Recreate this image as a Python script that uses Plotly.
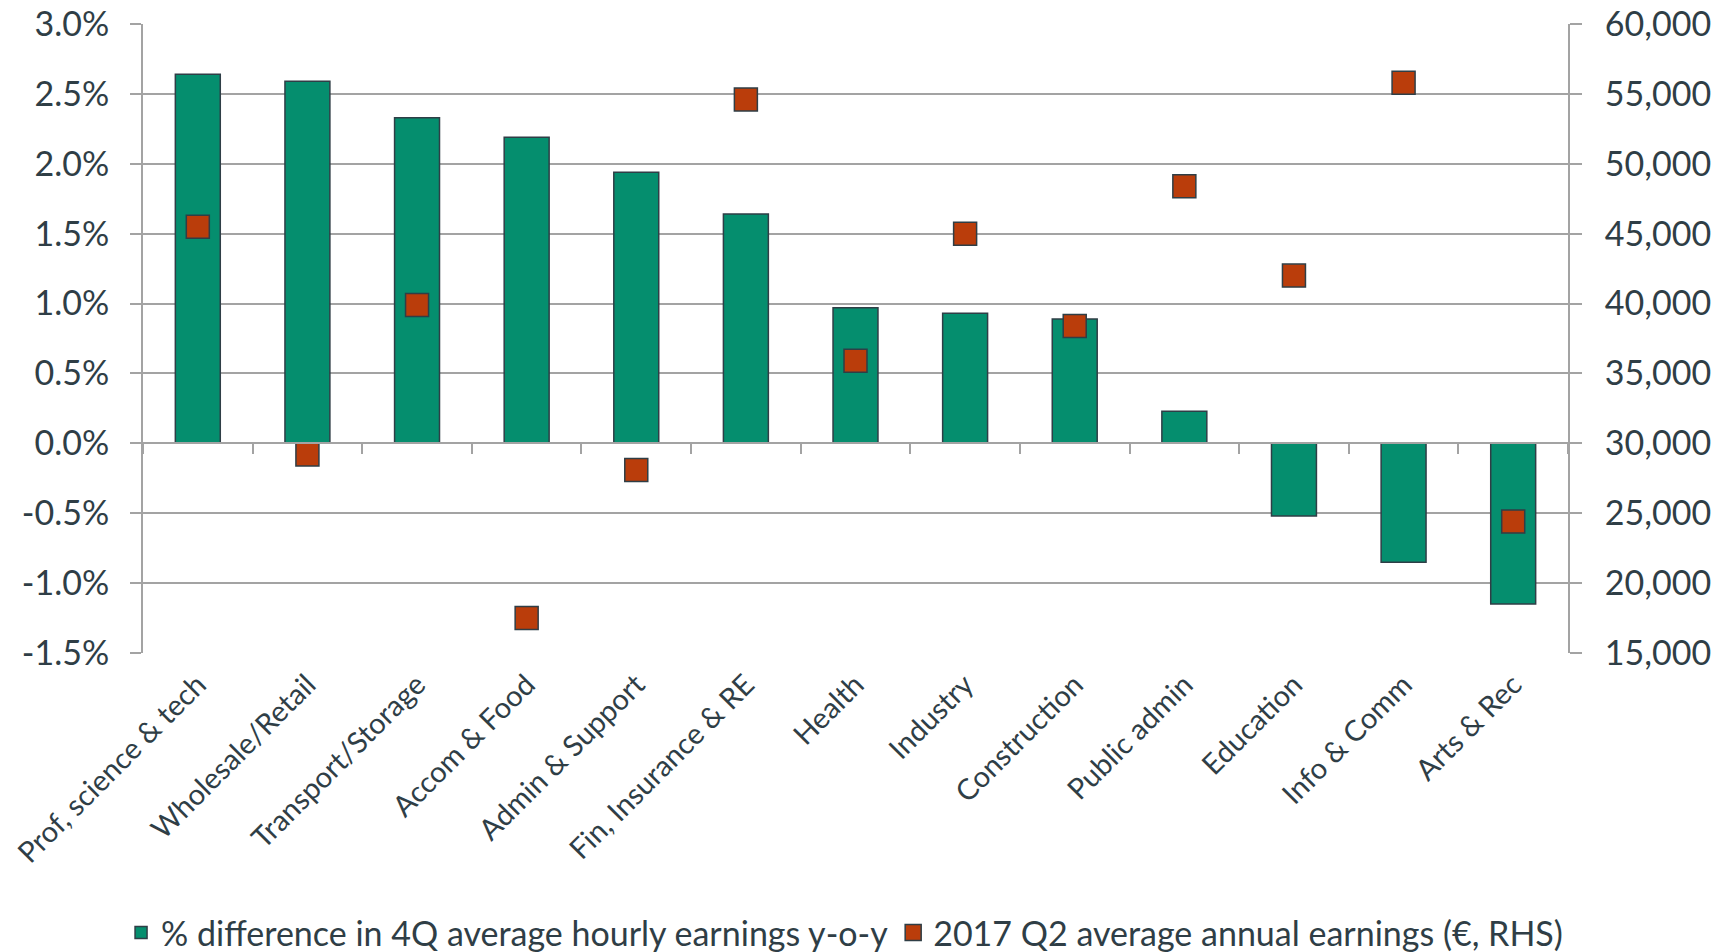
"""Sector earnings chart: y-o-y change in hourly earnings (bars, LHS)
against average annual earnings (markers, RHS)."""

import plotly.graph_objects as go

sectors = [
    "Prof, science & tech",
    "Wholesale/Retail",
    "Transport/Storage",
    "Accom & Food",
    "Admin & Support",
    "Fin, Insurance & RE",
    "Health",
    "Industry",
    "Construction",
    "Public admin",
    "Education",
    "Info & Comm",
    "Arts & Rec",
]
hourly_change_pct = [2.64, 2.59, 2.33, 2.19, 1.94, 1.64, 0.97, 0.93, 0.89, 0.23, -0.52, -0.85, -1.15]
annual_earnings = [45500, 29200, 39900, 17500, 28100, 54600, 35900, 45000, 38400, 48400, 42000, 55800, 24400]

pct_ticks = [-1.5, -1.0, -0.5, 0.0, 0.5, 1.0, 1.5, 2.0, 2.5, 3.0]
eur_ticks = [15000, 20000, 25000, 30000, 35000, 40000, 45000, 50000, 55000, 60000]

bar_name = "% difference in 4Q average hourly earnings y-o-y"
marker_name = "2017 Q2 average annual earnings (€, RHS)"

GREEN = "#058E6E"
RUST = "#BA3D0B"
OUTLINE = "#2F3E46"
GRID = "#A3A3A3"
TEXT = "#2F3E46"
FONT = "Lato"
SIZE = 34

cat_range = [-0.5, len(sectors) - 0.5]

fig = go.Figure()

fig.add_trace(
    go.Bar(
        x=sectors,
        y=hourly_change_pct,
        name=bar_name,
        marker={"color": GREEN, "line": {"color": OUTLINE, "width": 1.5}},
        xaxis="x",
        yaxis="y",
    )
)

# markers sit on a copy of the category axis that is pinned to the zero line
fig.add_trace(
    go.Scatter(
        x=sectors,
        y=annual_earnings,
        name=marker_name,
        mode="markers",
        marker={
            "symbol": "square",
            "size": 23,
            "color": RUST,
            "line": {"color": OUTLINE, "width": 1.5},
        },
        xaxis="x2",
        yaxis="y2",
    )
)

# page body adds an 8px offset, so the figure is 8px smaller than the window
fig.update_layout(
    width=1717,
    height=944,
    paper_bgcolor="white",
    plot_bgcolor="white",
    font={"family": FONT, "size": SIZE, "color": TEXT},
    margin={"l": 135, "r": 157, "t": 16, "b": 299, "autoexpand": False},
    bargap=0.59,
    showlegend=True,
    legend={
        "orientation": "h",
        "x": -0.0154,
        "xanchor": "left",
        "y": -0.445,
        "yanchor": "middle",
        "font": {"size": SIZE, "color": TEXT},
        "itemwidth": 30,
        "tracegroupgap": 0,
    },
    xaxis={
        "type": "category",
        "categoryorder": "array",
        "categoryarray": sectors,
        "range": cat_range,
        "tickangle": -45,
        "ticks": "",
        "showgrid": False,
        "showline": False,
        "zeroline": False,
        "automargin": False,
        "ticklabeloverflow": "allow",
        "ticklabelstandoff": 8,
        "tickfont": {"size": 29, "color": TEXT},
    },
    xaxis2={
        "type": "category",
        "categoryorder": "array",
        "categoryarray": sectors,
        "range": cat_range,
        "overlaying": "x",
        "anchor": "free",
        "position": 1.5 / 4.5,
        "showticklabels": False,
        "ticks": "outside",
        "tickson": "boundaries",
        "ticklen": 10,
        "tickwidth": 2,
        "tickcolor": GRID,
        "showline": True,
        "linecolor": GRID,
        "linewidth": 2,
        "showgrid": False,
        "zeroline": False,
        "automargin": False,
    },
    yaxis={
        "range": [pct_ticks[0], pct_ticks[-1]],
        "tickvals": pct_ticks,
        "ticktext": [f"{v:.1f}%" for v in pct_ticks],
        "showgrid": True,
        "gridcolor": GRID,
        "gridwidth": 2,
        "zeroline": False,
        "showline": True,
        "linecolor": GRID,
        "linewidth": 2,
        "ticks": "outside",
        "ticklen": 11,
        "tickwidth": 2,
        "tickcolor": GRID,
        "automargin": False,
        "ticklabeloverflow": "allow",
        "ticklabelstandoff": 14,
        "tickfont": {"size": SIZE, "color": TEXT},
    },
    yaxis2={
        "range": [eur_ticks[0], eur_ticks[-1]],
        "tickvals": eur_ticks,
        "ticktext": [f"{v:,}" for v in eur_ticks],
        "overlaying": "y",
        "side": "right",
        "anchor": "x",
        "showgrid": False,
        "zeroline": False,
        "showline": True,
        "linecolor": GRID,
        "linewidth": 2,
        "ticks": "outside",
        "ticklen": 12,
        "tickwidth": 2,
        "tickcolor": GRID,
        "automargin": False,
        "ticklabeloverflow": "allow",
        "ticklabelstandoff": 16,
        "tickfont": {"size": SIZE, "color": TEXT},
    },
)

fig.write_html("out.html")
